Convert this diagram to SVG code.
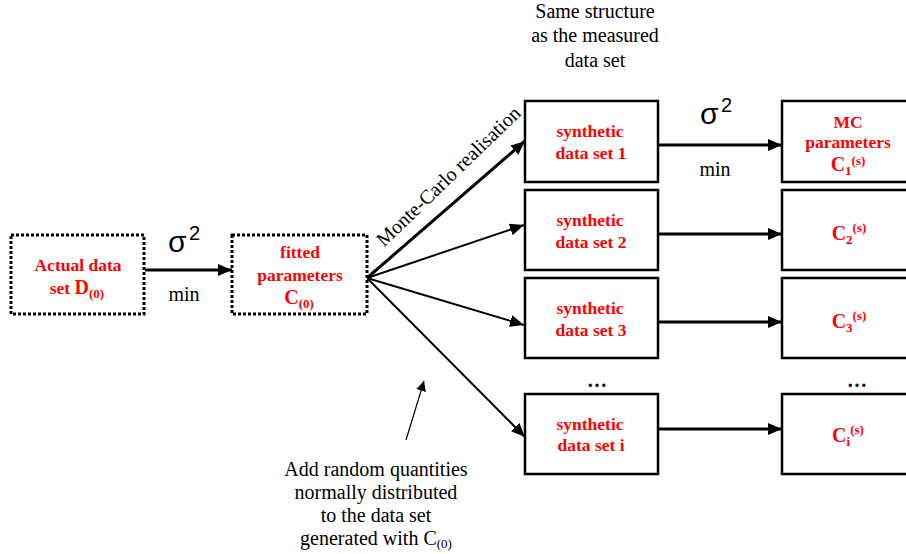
<svg xmlns="http://www.w3.org/2000/svg" width="906" height="554" viewBox="0 0 906 554">
<defs>
<marker id="ah" markerWidth="14" markerHeight="12" refX="14" refY="6" orient="auto" markerUnits="userSpaceOnUse"><path d="M0,0 L14,6 L0,12 Z" fill="#000"/></marker>
<marker id="ahs" markerWidth="10" markerHeight="10" refX="10" refY="5" orient="auto" markerUnits="userSpaceOnUse"><path d="M0,0 L10,5 L0,10 Z" fill="#000"/></marker>
<style>
.box{fill:#fff;stroke:#000;stroke-width:2.5}
.dot{fill:#fff;stroke:#000;stroke-width:3;stroke-dasharray:3 2}
.lbl{font-family:"Liberation Serif",serif;font-weight:bold;font-size:17.5px;fill:#ff0000;text-anchor:middle}
.c{font-size:20px}
.sub{font-size:13px}
.txt{font-family:"Liberation Serif",serif;font-size:20px;fill:#000;text-anchor:middle}
.sig{font-family:"Liberation Sans",sans-serif;font-size:30px;fill:#000}
.sup{font-family:"Liberation Sans",sans-serif;font-size:20px;fill:#000}
.ln{stroke:#000;fill:none}
</style>
</defs>
<g id="connectors">
<line class="ln" x1="145" y1="270" x2="232" y2="270" stroke-width="3" marker-end="url(#ah)"/>
<line class="ln" x1="367" y1="278" x2="525" y2="141" stroke-width="3" marker-end="url(#ah)"/>
<line class="ln" x1="367" y1="278" x2="524" y2="225" stroke-width="2" marker-end="url(#ah)"/>
<line class="ln" x1="367" y1="278" x2="524" y2="325" stroke-width="2" marker-end="url(#ah)"/>
<line class="ln" x1="367" y1="278" x2="525" y2="437" stroke-width="2" marker-end="url(#ah)"/>
<line class="ln" x1="658" y1="145" x2="782" y2="145" stroke-width="3" marker-end="url(#ah)"/>
<line class="ln" x1="658" y1="234" x2="782" y2="234" stroke-width="3" marker-end="url(#ah)"/>
<line class="ln" x1="658" y1="322" x2="782" y2="322" stroke-width="3" marker-end="url(#ah)"/>
<line class="ln" x1="658" y1="429" x2="782" y2="429" stroke-width="3" marker-end="url(#ah)"/>
<line class="ln" x1="406" y1="440" x2="424" y2="381" stroke-width="1.2" marker-end="url(#ahs)"/>
</g>
<g id="actual">
<rect class="dot" x="11" y="235" width="133" height="79"/>
<text class="lbl" x="78" y="271">Actual data</text>
<text class="lbl" x="77" y="294">set <tspan class="c">D</tspan><tspan class="sub" dy="4">(0)</tspan></text>
</g>
<g id="fitted">
<rect class="dot" x="232" y="235" width="135" height="79"/>
<text class="lbl" x="300" y="258">fitted</text>
<text class="lbl" x="300" y="281">parameters</text>
<text class="lbl" x="299" y="304"><tspan class="c">C</tspan><tspan class="sub" dy="4">(0)</tspan></text>
</g>
<g id="syn1">
<rect class="box" x="525" y="101" width="133" height="81"/>
<text class="lbl" x="590" y="137">synthetic</text>
<text class="lbl" x="591" y="159">data set 1</text>
</g>
<g id="syn2">
<rect class="box" x="525" y="190" width="133" height="80"/>
<text class="lbl" x="590" y="226">synthetic</text>
<text class="lbl" x="591" y="248">data set 2</text>
</g>
<g id="syn3">
<rect class="box" x="525" y="278" width="133" height="80"/>
<text class="lbl" x="590" y="314">synthetic</text>
<text class="lbl" x="591" y="336">data set 3</text>
</g>
<g id="syni">
<rect class="box" x="525" y="394" width="133" height="80"/>
<text class="lbl" x="590" y="430">synthetic</text>
<text class="lbl" x="591" y="451">data set i</text>
</g>
<g id="mc1">
<rect class="box" x="782" y="101" width="134" height="81"/>
<text class="lbl" x="848" y="128">MC</text>
<text class="lbl" x="848" y="148">parameters</text>
<text class="lbl" x="848" y="171"><tspan class="c">C</tspan><tspan class="sub" dy="4">1</tspan><tspan class="sub" dy="-10">(s)</tspan></text>
</g>
<g id="mc2">
<rect class="box" x="782" y="190" width="134" height="80"/>
<text class="lbl" x="849" y="240"><tspan class="c">C</tspan><tspan class="sub" dy="4">2</tspan><tspan class="sub" dy="-12">(s)</tspan></text>
</g>
<g id="mc3">
<rect class="box" x="782" y="278" width="134" height="80"/>
<text class="lbl" x="849" y="328"><tspan class="c">C</tspan><tspan class="sub" dy="4">3</tspan><tspan class="sub" dy="-12">(s)</tspan></text>
</g>
<g id="mci">
<rect class="box" x="782" y="394" width="134" height="80"/>
<text class="lbl" x="848" y="442"><tspan class="c">C</tspan><tspan class="sub" dy="4">i</tspan><tspan class="sub" dy="-12">(s)</tspan></text>
</g>
<g id="labels">
<text class="sig" x="168" y="252">σ</text><text class="sup" x="189" y="240">2</text>
<text class="txt" x="184" y="301">min</text>
<text class="sig" x="700" y="124">σ</text><text class="sup" x="721" y="112">2</text>
<text class="txt" x="715" y="176">min</text>
<text class="txt" font-size="21" transform="translate(453,181) rotate(-44)">Monte-Carlo realisation</text>
<text class="txt" x="595" y="18">Same structure</text>
<text class="txt" x="595" y="42">as the measured</text>
<text class="txt" x="595" y="67">data set</text>
<text class="txt" x="597" y="387" font-weight="bold">…</text>
<text class="txt" x="857" y="387" font-weight="bold">…</text>
<text class="txt" x="376" y="476">Add random quantities</text>
<text class="txt" x="376" y="499">normally distributed</text>
<text class="txt" x="376" y="522">to the data set</text>
<text class="txt" x="376" y="545">generated with C<tspan font-size="13" dy="3">(0)</tspan></text>
</g>
</svg>
